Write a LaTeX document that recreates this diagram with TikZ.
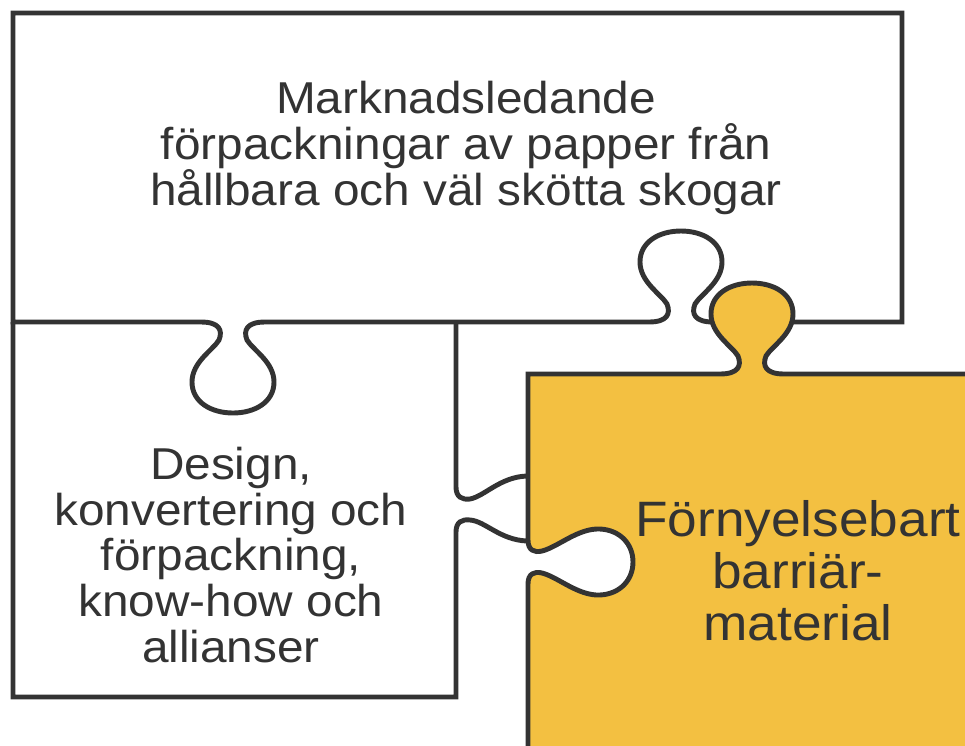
\documentclass[tikz,border=0pt]{standalone}
\usepackage{fontspec}
\setmainfont[FakeStretch=1.07]{Liberation Sans}
\definecolor{ink}{HTML}{333333}
\definecolor{gold}{HTML}{F3C041}
\tikzset{
	piece/.style={draw=ink,line width=2.8pt},
	lbl/.style={align=center,text=ink,font=\fontsize{25.4}{26.1}\selectfont},
	biglbl/.style={lbl,font=\fontsize{28.3}{29.5}\selectfont}
}
\begin{document}
\begin{tikzpicture}[x=0.02cm,y=-0.02cm]
	\useasboundingbox (0,0) rectangle (965,745);
	
	%top piece
	\draw[piece,fill=white] (13,322) -- (13,13) -- (902,13) -- (902,322) -- (713,322)
	  .. controls (695,322) and (691,314) .. (695,304) .. controls (701,294) and (722,282) .. (722,262)
	  .. controls (722,242) and (703,231) .. (681,231) .. controls (659,231) and (640,242) .. (640,262)
	  .. controls (640,282) and (661,294) .. (667,304) .. controls (671,314) and (667,322) .. (649,322) %hole
	  -- (265,322)
	  .. controls (247,322) and (243,330) .. (247,340) .. controls (253,350) and (274,362) .. (274,382)
	  .. controls (274,402) and (255,413) .. (233,413) .. controls (211,413) and (192,402) .. (192,382)
	  .. controls (192,362) and (213,350) .. (219,340) .. controls (223,330) and (219,322) .. (201,322) %knob
	  -- cycle;
	
	%bottom left piece
	\draw[piece] (456,322) -- (456,487) .. controls (456,497) and (462,500) .. (470,499)
	  .. controls (485,496) and (500,477) .. (527,476); %neck top
	\draw[piece] (527,541) .. controls (500,540) and (485,521) .. (470,520)
	  .. controls (462,519) and (456,522) .. (456,532) -- (456,697) -- (13,697) -- (13,322); %neck bottom
	
	%yellow piece
	\draw[piece,fill=gold] (528,540) -- (528,374) -- (720,374)
	  .. controls (738,374) and (742,366) .. (738,356) .. controls (732,346) and (711,334) .. (711,314)
	  .. controls (711,294) and (730,283) .. (752,283) .. controls (774,283) and (793,294) .. (793,314)
	  .. controls (793,334) and (772,346) .. (766,356) .. controls (762,366) and (766,374) .. (784,374) %knob
	  -- (975,374) -- (975,755) -- (528,755) -- (528,584)
	  .. controls (528,574) and (534,571) .. (542,573) .. controls (558,577) and (578,596) .. (600,595)
	  .. controls (620,594) and (633,580) .. (633,562) .. controls (633,544) and (620,530) .. (600,529)
	  .. controls (578,528) and (558,547) .. (542,551) .. controls (534,553) and (528,550) .. (528,540) %hole
	  -- cycle;
	
	%labels
	\node[lbl] (market) at (466,148) {Marknadsledande\\förpackningar av papper från\\hållbara och väl skötta skogar};
	\node[lbl] (design) at (231,555) {Design,\\konvertering och\\förpackning,\\know-how och\\allianser};
	\node[biglbl] (barrier) at (798,571) {Förnyelsebart\\barriär-\\material};
\end{tikzpicture}
\end{document}
